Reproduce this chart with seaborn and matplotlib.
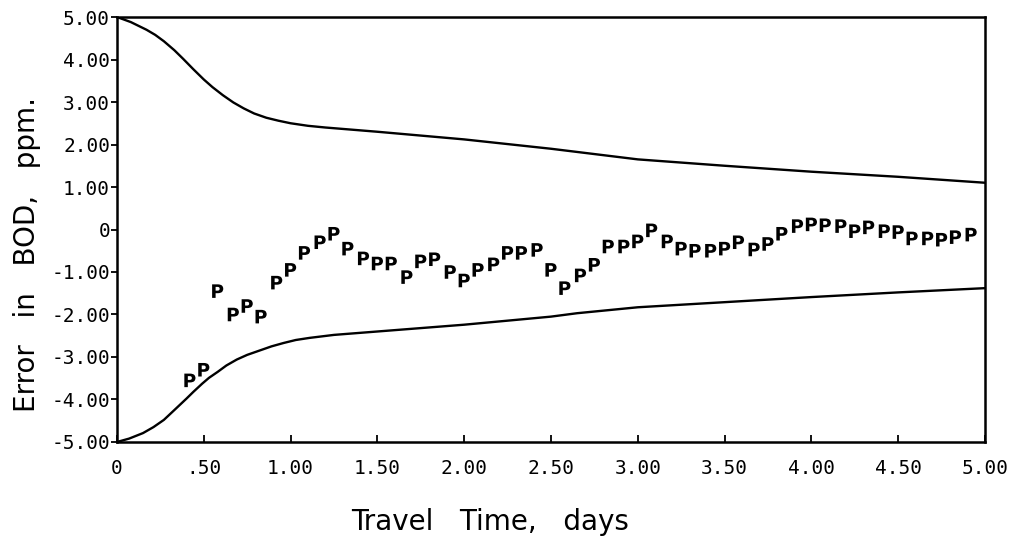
import pandas as pd
import seaborn as sns
import matplotlib.pyplot as plt

# error points (P markers), travel time in days
p_time = [0.42, 0.50, 0.58, 0.67, 0.75, 0.83, 0.92, 1.00, 1.08, 1.17,
          1.25, 1.33, 1.42, 1.50, 1.58, 1.67, 1.75, 1.83, 1.92, 2.00,
          2.08, 2.17, 2.25, 2.33, 2.42, 2.50, 2.58, 2.67, 2.75, 2.83,
          2.92, 3.00, 3.08, 3.17, 3.25, 3.33, 3.42, 3.50, 3.58, 3.67,
          3.75, 3.83, 3.92, 4.00, 4.08, 4.17, 4.25, 4.33, 4.42, 4.50,
          4.58, 4.67, 4.75, 4.83, 4.92]
p_error = [-3.55, -3.30, -1.45, -2.00, -1.80, -2.05, -1.25, -0.95, -0.55, -0.30,
           -0.10, -0.45, -0.68, -0.80, -0.80, -1.12, -0.75, -0.70, -1.00, -1.20,
           -0.95, -0.82, -0.55, -0.55, -0.48, -0.95, -1.38, -1.08, -0.83, -0.40,
           -0.40, -0.28, -0.02, -0.28, -0.45, -0.50, -0.50, -0.45, -0.30, -0.47,
           -0.34, -0.10, 0.08, 0.12, 0.10, 0.08, -0.04, 0.05, -0.04, -0.06,
           -0.21, -0.21, -0.24, -0.18, -0.12]

# upper / lower bound curves
up_time = [0, 0.08, 0.17, 0.22, 0.27, 0.33, 0.38, 0.44, 0.50, 0.55, 0.61, 0.67,
           0.73, 0.79, 0.86, 0.93, 1.00, 1.10, 1.20, 1.35, 1.50,
           2.00, 2.50, 3.00, 3.50, 4.00, 4.50, 5.00]
up_error = [5.00, 4.88, 4.70, 4.58, 4.43, 4.22, 4.02, 3.77, 3.53, 3.35, 3.16, 2.99,
            2.85, 2.73, 2.63, 2.56, 2.50, 2.44, 2.40, 2.35, 2.30,
            2.12, 1.90, 1.65, 1.50, 1.36, 1.24, 1.10]
lo_time = [0, 0.07, 0.15, 0.21, 0.27, 0.33, 0.40, 0.44, 0.49, 0.53, 0.58, 0.63,
           0.69, 0.75, 0.82, 0.89, 0.96, 1.03, 1.11, 1.25, 1.50,
           2.00, 2.50, 2.65, 3.00, 3.50, 4.00, 4.50, 5.00]
lo_error = [-5.00, -4.92, -4.79, -4.65, -4.48, -4.25, -3.98, -3.82, -3.63, -3.49, -3.35, -3.20,
            -3.06, -2.95, -2.85, -2.75, -2.67, -2.60, -2.55, -2.48, -2.40,
            -2.24, -2.05, -1.97, -1.83, -1.71, -1.59, -1.48, -1.38]

x_ticks = [0, 0.5, 1, 1.5, 2, 2.5, 3, 3.5, 4, 4.5, 5]
x_labels = ['0', '.50', '1.00', '1.50', '2.00', '2.50', '3.00', '3.50', '4.00', '4.50', '5.00']
y_ticks = [-5, -4, -3, -2, -1, 0, 1, 2, 3, 4, 5]
y_labels = ['-5.00', '-4.00', '-3.00', '-2.00', '-1.00', '0', '1.00', '2.00', '3.00', '4.00', '5.00']

sns.set_style('ticks')
plt.rcParams['font.family'] = ['DejaVu Sans']

fig = plt.figure(figsize=(10.2, 5.4), dpi=100)
ax = fig.add_axes([0.1147, 0.1815, 0.851, 0.787])

sns.lineplot(x=up_time, y=up_error, color='black', linewidth=1.7, ax=ax)
sns.lineplot(x=lo_time, y=lo_error, color='black', linewidth=1.7, ax=ax)
sns.scatterplot(x=p_time, y=p_error, marker=r'$\mathbf{P}$', s=95,
                color='black', edgecolor='none', ax=ax)

ax.set_xlim(0, 5)
ax.set_ylim(-5, 5)
ax.set_xticks(x_ticks)
ax.set_xticklabels(x_labels, family='DejaVu Sans Mono', fontsize=14)
ax.set_yticks(y_ticks)
ax.set_yticklabels(y_labels, family='DejaVu Sans Mono', fontsize=14)
ax.tick_params(axis='x', direction='in', length=5, width=1.3, pad=12,
               color='black', labelcolor='black')
ax.tick_params(axis='y', direction='out', length=4, width=1.3, pad=1,
               color='black', labelcolor='black')
for s in ax.spines.values():
    s.set_visible(True)
    s.set_linewidth(1.8)
    s.set_color('black')
ax.set_xlabel('')
ax.set_ylabel('')

fig.text(0.48, 0.0185, 'Travel   Time,   days', ha='center', va='baseline',
         fontsize=20, color='black')
fig.text(0.026, 0.528, 'Error   in   BOD,   ppm.', ha='center', va='center',
         rotation=90, fontsize=20, color='black')

fig.savefig('out.png', dpi=100)
